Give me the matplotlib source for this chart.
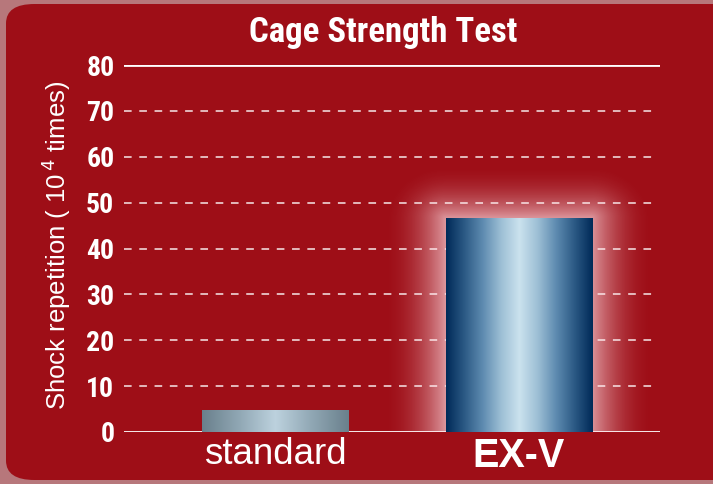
## Cage strength test bar chart

import matplotlib
matplotlib.use('Agg')
import matplotlib.pyplot as plt
import numpy as np
from matplotlib.colors import LinearSegmentedColormap
from matplotlib.patches import FancyBboxPatch

categories = ['standard', 'EX-V']
values = [4.8, 46.6]
yticks = [0, 10, 20, 30, 40, 50, 60, 70, 80]

red = '#9E0E17'
cond = ['Roboto Condensed', 'DejaVu Sans']

fig = plt.figure(figsize=(7.13, 4.84), dpi=100)
fig.patch.set_facecolor('#B7777B')

# red rounded panel
panel = FancyBboxPatch((6/713, 4/484), 740/713, 476/484,
                       boxstyle='round,pad=0,rounding_size=0.04',
                       transform=fig.transFigure, facecolor=red,
                       edgecolor='none', zorder=-10)
fig.patches.append(panel)

ax = fig.add_axes([124/713, 1 - 432/484, (660-124)/713, (432-65)/484])
ax.set_facecolor('none')
for s in ax.spines.values():
    s.set_visible(False)

x = np.arange(len(categories))
width = 0.6

# grid lines
for t in yticks:
    if t in (0, 80):
        ax.axhline(t, color='white', lw=2, zorder=1)
    else:
        ax.axhline(t, xmax=0.992, color='white', lw=1.1, ls=(0, (5, 5)), alpha=0.9, zorder=1)

# glow behind EX-V bar
i = 1
gw, gh = 0.26, 12.0
n = 300
GX, GY = np.meshgrid(np.linspace(-1, 1, n), np.linspace(0, 1, n))
glow_w = width / 2 + gw
glow_top = values[i] + gh
bx = np.clip(np.abs(GX) * glow_w - width / 2, 0, None) / gw
by = np.clip(GY * glow_top - values[i], 0, None) / gh
d = np.sqrt(bx**2 + by**2)
alpha = np.clip(1 - d, 0, 1) ** 2 * 0.65
glow = np.zeros((n, n, 4))
glow[..., 0] = 1.0
glow[..., 1] = 0.88
glow[..., 2] = 0.9
glow[..., 3] = alpha
ax.imshow(glow, extent=[x[i] - glow_w, x[i] + glow_w, 0, glow_top],
          origin='lower', aspect='auto', zorder=1.5, interpolation='bilinear')

bars = ax.bar(x, values, width=width, color='none', zorder=2)

cmaps = [
    LinearSegmentedColormap.from_list('std', ['#6A808C', '#90A7B4', '#BDD2DE', '#90A7B4', '#6A808C']),
    LinearSegmentedColormap.from_list('exv', ['#002A58', '#2C5A85', '#5E8BB0', '#9DBFD5',
                                              '#CBE2EE', '#9DBFD5', '#5E8BB0', '#2C5A85', '#002A58']),
]
grad = np.linspace(0, 1, 256).reshape(1, -1)
for b, cm in zip(bars, cmaps):
    x0 = b.get_x()
    im = ax.imshow(grad, cmap=cm, extent=[x0, x0 + b.get_width(), 0, b.get_height()],
                   aspect='auto', zorder=2.5, interpolation='bilinear')
    im.set_clip_path(b)

ax.set_xlim(-0.62, 1.58)
ax.set_ylim(0, 80)

ax.set_yticks(yticks)
ax.set_yticklabels([str(t) for t in yticks], color='white', fontsize=20,
                   fontweight='bold', family=cond)
ax.tick_params(axis='y', length=0, pad=7)
ax.set_xticks(x)
ax.set_xticklabels([])
ax.tick_params(axis='x', length=0)

ax.text(x[0], -1.0, categories[0], ha='center', va='top', color='white',
        fontsize=26.5, family='Liberation Sans')
ax.text(x[1], -1.0, categories[1], ha='center', va='top', color='white',
        fontsize=28.5, fontweight='bold', family='Liberation Sans')

fig.text(56/713, 1 - 245/484, 'Shock repetition ( 10$^{\\,4}$ times)', rotation=90,
         ha='center', va='center', color='white', fontsize=18.5, family='Liberation Sans')

fig.text(383/713, 1 - 33/484, 'Cage Strength Test', ha='center', va='center',
         color='white', fontsize=25, fontweight='bold', family=cond)

fig.savefig('out.png', dpi=100, facecolor=fig.get_facecolor())
